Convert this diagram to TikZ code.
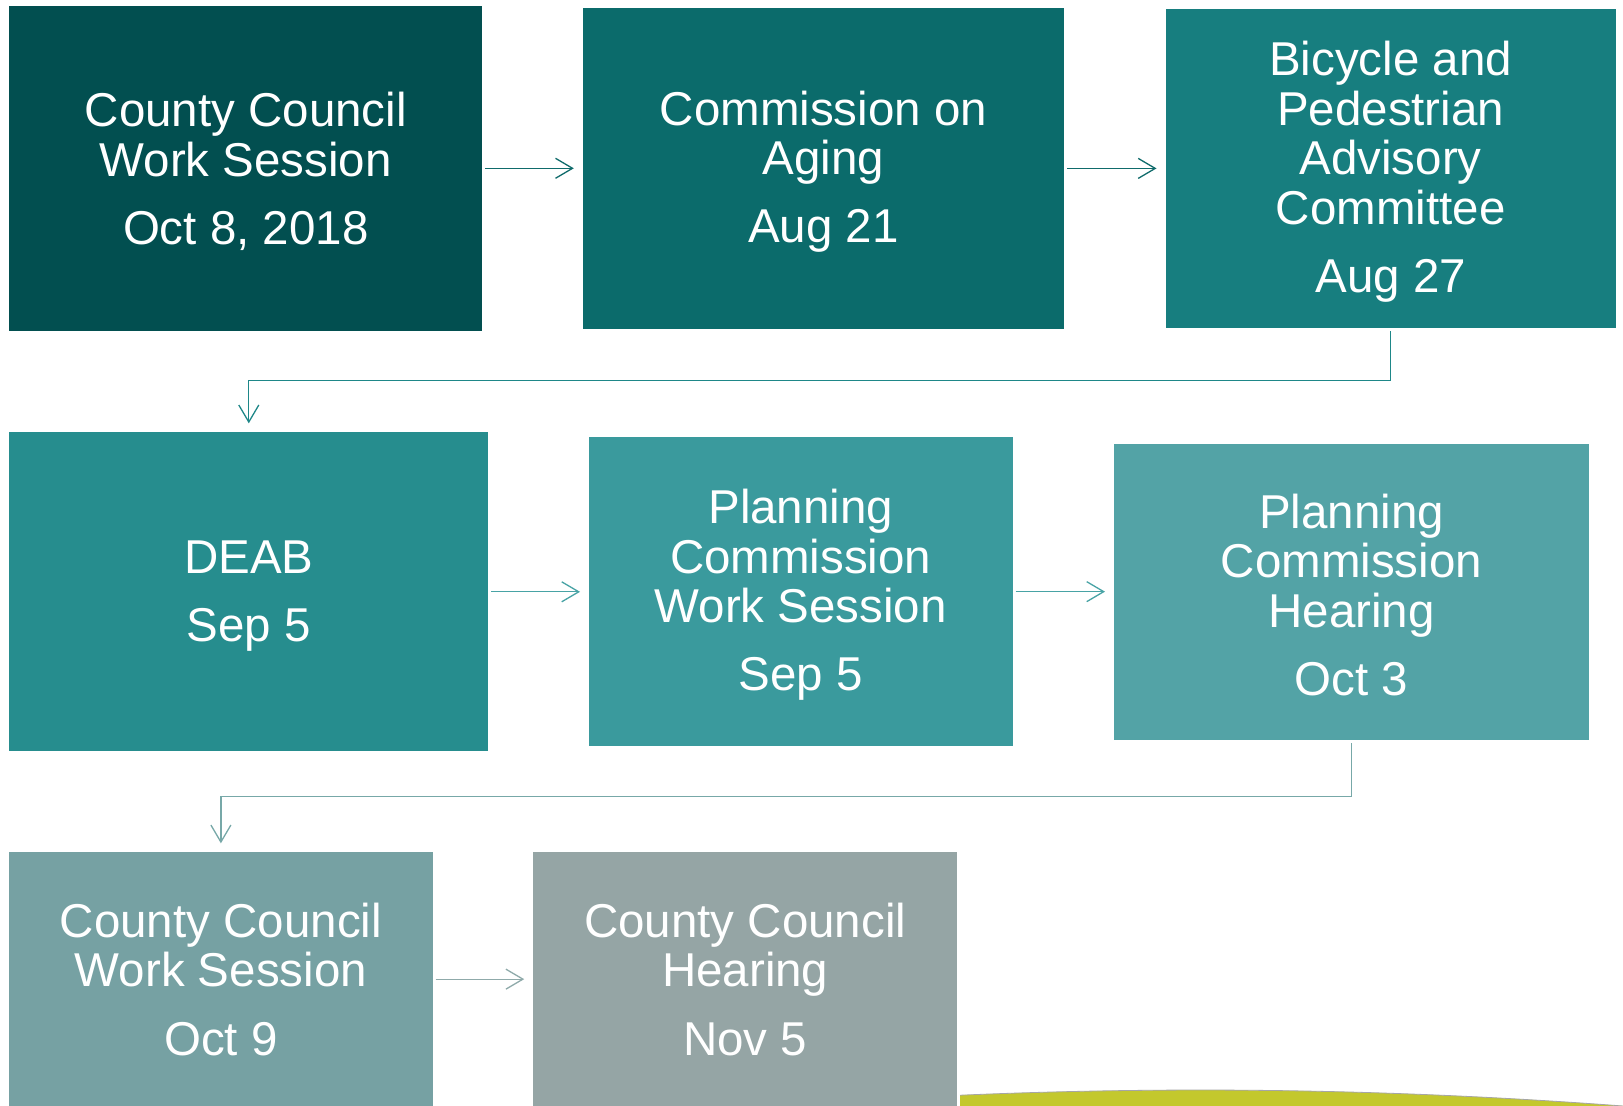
\documentclass[tikz,border=0pt]{standalone}
\usepackage{fontspec}
\setmainfont{Liberation Sans}
\usetikzlibrary{arrows.meta}
\definecolor{cA}{HTML}{024F50}
\definecolor{cB}{HTML}{0B6B6B}
\definecolor{cC}{HTML}{177E7F}
\definecolor{cD}{HTML}{268D8E}
\definecolor{cE}{HTML}{3A9A9D}
\definecolor{cF}{HTML}{53A3A6}
\definecolor{cG}{HTML}{76A1A3}
\definecolor{cH}{HTML}{95A5A5}
\definecolor{cHill}{HTML}{C3C82D}
\definecolor{aA}{HTML}{0F6B6B}
\definecolor{aB}{HTML}{1E8788}
\definecolor{aC}{HTML}{48A3A5}
\definecolor{aD}{HTML}{77A8A8}
\definecolor{aE}{HTML}{8FAAAA}
\newcommand{\boxfont}{\fontsize{47.5}{49.5}\selectfont}
\newcommand{\tallstrut}{\rule{0pt}{41pt}}
\tikzset{
  box/.style={rectangle, inner sep=0pt, outer sep=0pt, text=white, align=center, font=\boxfont},
  flow/.style={-{Straight Barb[length=17pt,width=20pt]}, line width=1.3pt, shorten <=3pt, shorten >=9pt},
}
\begin{document}
\begin{tikzpicture}[x=1pt,y=-1pt]
\useasboundingbox[fill=white] (0,0) rectangle (1623,1106);
% row 1
\node[box, fill=cA, minimum width=473pt, minimum height=325.4pt] (b1) at (245.8,168.3)
  {\tallstrut County Council\\Work Session\\[18.9pt]Oct 8, 2018};
\node[box, fill=cB, minimum width=481.2pt, minimum height=321.2pt] (b2) at (823.4,168.4)
  {\tallstrut Commission on\\Aging\\[18.9pt]Aug 21};
\node[box, fill=cC, minimum width=450.3pt, minimum height=319.1pt] (b3) at (1390.65,168.75)
  {\tallstrut Bicycle and\\Pedestrian\\Advisory\\Committee\\[18.9pt]Aug 27};
% row 2
\node[box, fill=cD, minimum width=479pt, minimum height=319pt] (b4) at (248.8,591.8)
  {\tallstrut DEAB\\[18.9pt]Sep 5};
\node[box, fill=cE, minimum width=423.5pt, minimum height=308.7pt] (b5) at (800.75,591.65)
  {\tallstrut Planning\\Commission\\Work Session\\[18.9pt]Sep 5};
\node[box, fill=cF, minimum width=475pt, minimum height=296.2pt] (b6) at (1351.5,591.9)
  {\tallstrut Planning\\Commission\\Hearing\\[18.9pt]Oct 3};
% row 3
\node[box, fill=cG, minimum width=423.2pt, minimum height=253.7pt] (b7) at (220.9,979.15)
  {County Council\\Work Session\\[18.9pt]Oct 9};
\node[box, fill=cH, minimum width=424.1pt, minimum height=253.7pt] (b8) at (745.25,979.15)
  {County Council\\Hearing\\[18.9pt]Nov 5};
% decorative hill
\fill[cHill] (960,1106) -- (960,1095.2) .. controls (1181,1085.7) and (1402,1089.3) .. (1623,1106) -- cycle;
\draw[gray!70, line width=0.8pt] (960,1095.2) .. controls (1181,1085.7) and (1402,1089.3) .. (1623,1106);
% connectors
\coordinate (k1) at (800,380.3);
\coordinate (k2) at (800,796.7);
\draw[flow, aA] (b1.east) -- (b1.east -| b2.west);
\draw[flow, aA] (b2.east) -- (b2.east -| b3.west);
\draw[flow, aB] (b3.south) -- (b3.south |- k1) -| (b4.north);
\draw[flow, aC] (b4.east) -- (b4.east -| b5.west);
\draw[flow, aC] (b5.east) -- (b5.east -| b6.west);
\draw[flow, aD] (b6.south) -- (b6.south |- k2) -| (b7.north);
\draw[flow, aE] (b7.east) -- (b7.east -| b8.west);
\end{tikzpicture}
\end{document}
